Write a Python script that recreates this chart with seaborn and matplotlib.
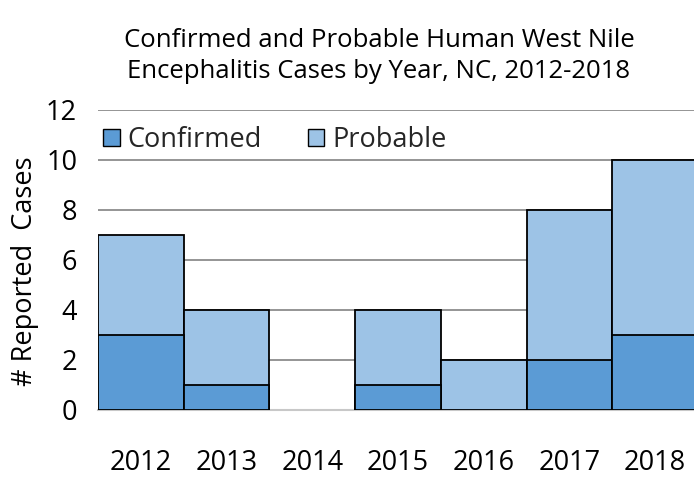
import matplotlib
matplotlib.use("Agg")
import matplotlib.pyplot as plt
import seaborn as sns
import pandas as pd
from matplotlib.patches import Patch

years = ["2012", "2013", "2014", "2015", "2016", "2017", "2018"]
confirmed = [3, 1, 0, 1, 0, 2, 3]
probable = [4, 3, 0, 3, 2, 6, 7]
yticks = [0, 2, 4, 6, 8, 10, 12]

c_conf = "#5B9BD5"
c_prob = "#9DC3E6"

sns.set_theme(style="white")
plt.rcParams["font.family"] = ["Open Sans", "DejaVu Sans"]

df = pd.DataFrame({"year": years, "confirmed": confirmed,
                   "total": [a + b for a, b in zip(confirmed, probable)]})

fig = plt.figure(figsize=(6.94, 4.78), dpi=100)
ax = fig.add_axes([98 / 694, 68 / 478, 600 / 694, 300 / 478])

sns.barplot(data=df, x="year", y="total", color=c_prob, width=1.0,
            edgecolor="black", linewidth=1.3, saturation=1, ax=ax, zorder=2)
sns.barplot(data=df, x="year", y="confirmed", color=c_conf, width=1.0,
            edgecolor="black", linewidth=1.3, saturation=1, ax=ax, zorder=3)
for p in ax.patches:
    if p.get_height() == 0:
        p.set_edgecolor("none")

ax.set_ylim(0, 12)
ax.set_xlim(-0.5, 6.5)
ax.set_yticks(yticks)
ax.set_yticklabels([str(t) for t in yticks])
ax.yaxis.grid(True, color="#8c8c8c", linewidth=1.3, zorder=0)
ax.set_axisbelow(True)
for s in ["top", "right", "left"]:
    ax.spines[s].set_visible(False)
ax.spines["bottom"].set_color("#c8c8c8")
ax.spines["bottom"].set_linewidth(1.5)
ax.spines["bottom"].set_zorder(1)
ax.tick_params(axis="x", labelsize=19.5, pad=28, length=0, colors="black")
ax.tick_params(axis="y", labelsize=19.5, pad=15, length=0, colors="black")
ax.set_xlabel("")
ax.set_ylabel("# Reported  Cases", fontsize=19.5, color="black")
ax.yaxis.set_label_coords(-0.098, 0.463)

handles = [Patch(facecolor=c_conf, edgecolor="black", linewidth=1),
           Patch(facecolor=c_prob, edgecolor="black", linewidth=1)]
ax.legend(handles, ["Confirmed", "Probable"], loc="center left",
          bbox_to_anchor=(0.0, 0.9), ncol=2, frameon=False, fontsize=19.5,
          handlelength=0.6, handleheight=0.6, handletextpad=0.3,
          columnspacing=1.7, borderaxespad=0.0, borderpad=0.2)

fig.text(379 / 694, 1 - 56 / 478,
         "Confirmed and Probable Human West Nile\nEncephalitis Cases by Year, NC, 2012-2018",
         ha="center", va="center", fontsize=18.5, linespacing=1.3, color="black")

fig.savefig("out.png", dpi=100)
